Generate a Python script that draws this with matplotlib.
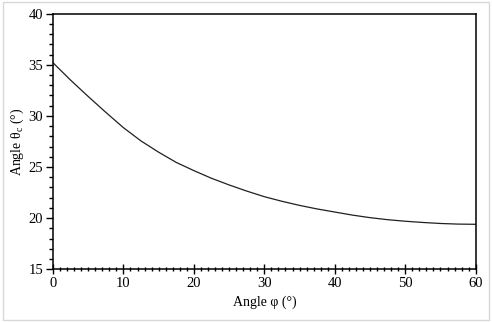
import matplotlib
matplotlib.use('Agg')
import matplotlib.pyplot as plt
from matplotlib.ticker import MultipleLocator
from matplotlib.patches import Rectangle

plt.rcParams['font.family'] = ['Liberation Serif', 'DejaVu Serif']
plt.rcParams['mathtext.fontset'] = 'custom'
plt.rcParams['mathtext.rm'] = 'Liberation Serif'
plt.rcParams['mathtext.it'] = 'Liberation Serif:italic'

# angle phi (deg) and critical angle theta_c (deg)
phi = [0, 2.5, 5, 7.5, 10, 12.5, 15, 17.5, 20, 22.5, 25, 27.5, 30,
       32.5, 35, 37.5, 40, 42.5, 45, 47.5, 50, 52.5, 55, 57.5, 60]
theta_c = [35.2, 33.5, 31.9, 30.35, 28.85, 27.55, 26.45, 25.45, 24.65,
           23.9, 23.25, 22.65, 22.1, 21.65, 21.25, 20.9, 20.6, 20.3,
           20.05, 19.85, 19.7, 19.58, 19.48, 19.42, 19.4]

fig = plt.figure(figsize=(4.92, 3.22), dpi=100)
ax = fig.add_axes([0.1077, 0.1637, 0.8592, 0.7938])

ax.plot(phi, theta_c, color='#202020', lw=0.9)

ax.set_xlim(0, 60)
ax.set_ylim(15, 40)
ax.xaxis.set_major_locator(MultipleLocator(10))
ax.xaxis.set_minor_locator(MultipleLocator(1))
ax.yaxis.set_major_locator(MultipleLocator(5))
ax.yaxis.set_minor_locator(MultipleLocator(1))
ax.tick_params(axis='x', which='major', direction='inout', length=7, width=1, labelsize=10.5, pad=2)
ax.tick_params(axis='x', which='minor', direction='inout', length=3, width=1)
ax.tick_params(axis='y', which='major', direction='out', length=5, width=1, labelsize=10.5, pad=2)
ax.tick_params(axis='y', which='minor', direction='out', length=3, width=1)
for s in ax.spines.values():
    s.set_linewidth(1.1)

ax.set_xlabel('Angle φ (°)', fontsize=10, labelpad=4)
ax.set_ylabel('Angle θ$_{\\mathrm{c}}$ (°)', fontsize=10, labelpad=2)

fig.patches.append(Rectangle((0.006, 0.006), 0.988, 0.988, transform=fig.transFigure,
                             fill=False, edgecolor='#d8d8d8', lw=1))

fig.savefig('out.png', dpi=100)
